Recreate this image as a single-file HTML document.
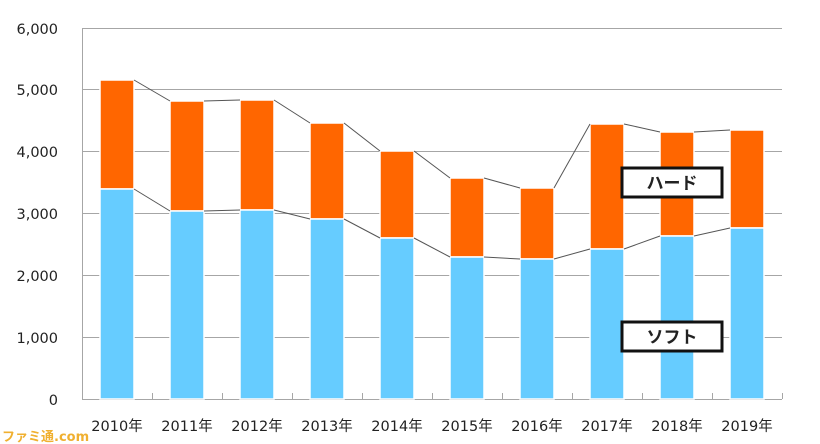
<!DOCTYPE html>
<html><head><meta charset="utf-8"><style>
html,body{margin:0;padding:0;background:#fff;}
svg{display:block;}
text{font-family:"DejaVu Sans","Noto Sans CJK JP",sans-serif;fill:#222;}
</style></head><body>
<svg width="820" height="444" viewBox="0 0 820 444" xmlns="http://www.w3.org/2000/svg">
<rect x="0" y="0" width="820" height="444" fill="#fff"/>
<g stroke="#a6a6a6" stroke-width="1">
<line x1="82" y1="28.5" x2="782" y2="28.5"/>
<line x1="82" y1="89.5" x2="782" y2="89.5"/>
<line x1="82" y1="151.5" x2="782" y2="151.5"/>
<line x1="82" y1="213.5" x2="782" y2="213.5"/>
<line x1="82" y1="275.5" x2="782" y2="275.5"/>
<line x1="82" y1="337.5" x2="782" y2="337.5"/>
<line x1="82.5" y1="28" x2="82.5" y2="399"/>
<line x1="82" y1="399.5" x2="782" y2="399.5"/>
</g>
<g stroke="#a6a6a6" stroke-width="1" id="ticks"></g>
<g font-size="14.5" text-anchor="end">
<text x="58" y="34">6,000</text>
<text x="58" y="95">5,000</text>
<text x="58" y="157">4,000</text>
<text x="58" y="219">3,000</text>
<text x="58" y="281">2,000</text>
<text x="58" y="343">1,000</text>
<text x="58" y="405">0</text>
</g>
<g id="bars"></g>
<g id="lines" stroke="#555" stroke-width="1" fill="none"></g>
<g font-size="14.5" text-anchor="middle" id="xl"></g>
<rect x="622" y="168" width="100" height="29" fill="#fff" stroke="#111" stroke-width="3"/>
<text x="672" y="189" font-size="17" font-weight="bold" text-anchor="middle">ハード</text>
<rect x="622" y="322" width="100" height="29" fill="#fff" stroke="#111" stroke-width="3"/>
<text x="672" y="343" font-size="17" font-weight="bold" text-anchor="middle">ソフト</text>
<text x="2" y="441" font-size="13" font-weight="bold" style="fill:#f0b030">ファミ通.com</text>
</svg>
<script>
var soft=[189,211,210,219,238,257,259,249,236,228];
var tot=[80,101,100,123,151,178,188,124,132,130];
var ns="http://www.w3.org/2000/svg";
function el(t,a,p){var e=document.createElementNS(ns,t);for(var k in a)e.setAttribute(k,a[k]);document.getElementById(p).appendChild(e);return e;}
for(var i=0;i<=10;i++){var x=82.5+70*i;el('line',{x1:x,y1:393,x2:x,y2:399},'ticks');}
for(var i=0;i<10;i++){
 var x=100+70*i;
 el('rect',{x:x,y:tot[i],width:34,height:soft[i]-tot[i],fill:'#ff6600',stroke:'#fff','stroke-width':1.5},'bars');
 el('rect',{x:x,y:soft[i],width:34,height:399-soft[i],fill:'#66ccff',stroke:'#fff','stroke-width':1.5},'bars');
 var t=el('text',{x:x+17,y:431},'xl');t.textContent=(2010+i)+'年';
 if(i<9){
  el('line',{x1:x+34,y1:tot[i],x2:x+70,y2:tot[i+1]},'lines');
  el('line',{x1:x+34,y1:soft[i],x2:x+70,y2:soft[i+1]},'lines');
 }
}
</script>
</body></html>
